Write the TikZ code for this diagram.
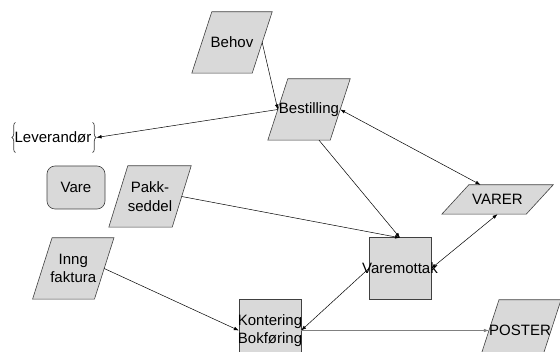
\documentclass[tikz,border=0pt]{standalone}
\usepackage{fontspec}
\setmainfont{Liberation Sans}
\usetikzlibrary{arrows.meta,decorations.pathreplacing,calc}
\pgfdeclarelayer{bg}
\pgfsetlayers{bg,main}
\definecolor{boxfill}{HTML}{D9D9D9}
\definecolor{boxline}{HTML}{404040}
\newcommand\plgshape[2]{%
  \begin{pgfonlayer}{bg}
  \filldraw[shapestyle] ([xshift=#2/2]#1.north west) -- ([xshift=#2/2]#1.north east)
    -- ([xshift=-#2/2]#1.south east) -- ([xshift=-#2/2]#1.south west) -- cycle;
  \end{pgfonlayer}}
\tikzset{
  lbl/.style={inner sep=0pt, font=\fontsize{15}{18.5}\selectfont, align=center, text=black},
  shapestyle/.style={fill=boxfill, draw=boxline, line width=0.6pt},
  conn/.style={draw=black, line width=0.5pt},
  arr/.style={-{Latex[length=5pt,width=3.6pt]}},
  darr/.style={{Latex[length=5pt,width=3.6pt]}-{Latex[length=5pt,width=3.6pt]}},
  bracestyle/.style={draw=black!75, line width=0.7pt, decorate, decoration={brace, amplitude=3.5pt}}
}
\begin{document}
\begin{tikzpicture}[x=1pt,y=-1pt]
\useasboundingbox (0,0) rectangle (560,352);

% parallelogram labels
\node[lbl, minimum width=60, minimum height=61] (behov) at (232,42.5) {Behov};
\plgshape{behov}{20}
\node[lbl, minimum width=62, minimum height=61] (best) at (309,109.5) {\makebox[0pt]{Bestilling}};
\plgshape{best}{20}
\node[lbl, minimum width=63, minimum height=61] (pakk) at (150,196.5) {Pakk-\\seddel};
\plgshape{pakk}{19}
\node[lbl, minimum width=61.5, minimum height=61] (inng) at (73.25,268.5) {Inng\\faktura};
\plgshape{inng}{19.5}
\node[lbl, minimum width=84, minimum height=29] (varer) at (497.5,199.5) {VARER};
\plgshape{varer}{27}
\node[lbl, minimum width=60, minimum height=61] (poster) at (520,330.5) {POSTER};
\plgshape{poster}{20}

% rectangles
\node[lbl, minimum width=62, minimum height=61] (vm) at (400,268.5) {\makebox[0pt]{Varemottak}};
\begin{pgfonlayer}{bg}
\filldraw[shapestyle] (vm.north west) rectangle (vm.south east);
\end{pgfonlayer}
\node[lbl, minimum width=62, minimum height=61] (kont) at (270,330.5) {\makebox[0pt]{Kontering}\\\makebox[0pt]{Bokføring}};
\begin{pgfonlayer}{bg}
\filldraw[shapestyle] (kont.north west) rectangle (kont.south east);
\end{pgfonlayer}

% rounded box
\node[lbl, shapestyle, rounded corners=8pt, minimum width=58, minimum height=43] (vare) at (76,187.5) {Vare};

% braced text
\node[lbl, inner sep=5pt, minimum height=30] (lev) at (53,137.5) {Leverandør};
\draw[bracestyle] ([xshift=6]lev.south west) -- ([xshift=6]lev.north west);
\draw[bracestyle] ([xshift=-4]lev.north east) -- ([xshift=-4]lev.south east);

% connectors
\draw[conn,arr] (behov.east) -- (best.west);
\draw[conn,arr] (best.west) -- (lev.east);
\draw[conn,darr] (best.east) -- ([xshift=-17]varer.north);
\draw[conn,arr] ([xshift=10]best.south) -- (vm.north);
\draw[conn,arr] (pakk.east) -- (vm.north);
\draw[conn,darr] (varer.south) -- (vm.east);
\draw[conn,arr] (vm.west) -- (kont.east);
\draw[conn,arr] (inng.east) -- (kont.west);
\draw[conn,arr,draw=gray,line width=0.8pt] (kont.east) -- (poster.west);
\end{tikzpicture}
\end{document}
